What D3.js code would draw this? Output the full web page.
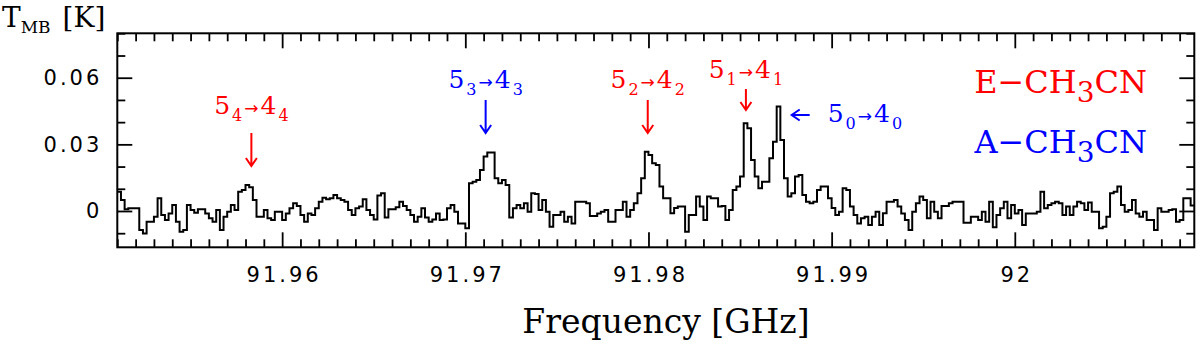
<!DOCTYPE html>
<meta charset="utf-8">
<script src="https://cdn.jsdelivr.net/npm/d3@7"></script>
<style>
body { margin: 0; background: #fff; }
.num { font: 21px "DejaVu Sans", sans-serif; letter-spacing: 3px; fill: #000; }
.serif { font-family: "DejaVu Serif", serif; }
.axis line { stroke: #000; stroke-width: 1.8px; }
.axis path.domain { display: none; }
</style>
<body>
<script>

// spectrum: 200 kHz channels starting at 91.951 GHz, T_MB in mK
var chanStart = 91.951,
    chanWidth = 0.0002;

var tmbMilliK = [
  8.7, 5.0, 0.8, 1.2, 1.2, 1.2, -8.6, -10.1, -4.8, -4.8,
  -2.6, 5.7, -1.8, -4.1, -1.1, 2.7, -4.8, -9.3, -8.6, 2.7,
  0.5, -0.8, 0.8, 0.8, -1.1, -3.3, -4.8, 0.5, -8.6, -2.6,
  -0.3, 2.7, 0.5, 8.7, 9.5, 11.7, 10.7, 5.0, -2.6, -2.6,
  0.5, -3.3, -4.1, -0.3, -0.3, -4.1, -1.1, 1.2, 3.5, 2.3,
  -1.8, -4.8, -1.1, -1.8, 1.2, 4.2, 6.0, 5.3, 5.7, 7.2,
  5.7, 5.0, 4.2, 0.5, -1.8, 1.2, 2.0, 5.3, 0.5, -1.8,
  -3.8, 7.0, 8.0, -2.9, 0.8, 0.8, 1.7, 4.2, 2.3, 0.5,
  -1.8, -4.8, -2.6, 1.2, -2.9, -4.8, -3.8, -1.1, -4.1, -3.8,
  1.2, 2.7, -0.3, -5.6, -5.6, -7.8, 12.5, 13.2, 14.0, 18.5,
  24.5, 26.3, 26.3, 14.7, 12.5, 14.0, 11.7, -2.9, 1.2, 2.7,
  1.2, 3.5, -0.3, 8.0, 7.7, 0.5, 5.0, -0.3, -7.1, -1.8,
  -1.8, -0.3, -4.8, -2.6, -5.6, 4.2, 4.2, 4.2, 3.5, -2.3,
  -2.3, -1.1, -0.3, 0.5, -4.8, -4.8, 0.5, 0.5, 4.2, -2.6,
  0.5, 3.5, 8.0, 14.7, 26.7, 25.2, 21.5, 20.7, 11.0, 5.7,
  5.7, -1.0, 1.3, 2.0, 2.0, -9.3, -1.8, -1.8, 6.5, 2.0,
  -4.1, 6.5, 5.7, 5.7, 2.0, 2.3, -4.1, 0.5, 9.5, 11.0,
  15.5, 39.5, 37.2, 23.0, 15.5, 10.2, 13.2, 13.2, 23.7, 31.2,
  47.0, 32.0, 14.7, 6.5, 8.0, 15.5, 16.2, 7.2, 4.2, 3.5,
  4.2, 9.5, 11.0, 11.0, 5.7, 1.3, -1.8, -0.3, 10.2, 9.5,
  2.0, -1.8, -5.6, -3.3, -2.6, -6.3, -2.6, -0.3, -6.3, -1.0,
  4.2, 4.2, 5.0, 2.0, -1.1, -4.1, -8.6, -0.3, 3.5, 6.5,
  5.0, -3.3, 4.2, -0.3, -3.3, 2.3, 2.3, 3.5, 4.2, 4.2,
  4.2, -5.3, -5.3, -2.6, -2.6, -4.1, -0.3, -4.8, 4.2, -7.3,
  -1.8, 1.2, 4.2, -3.3, 2.7, -1.1, 0.5, -6.3, -1.1, -1.1,
  -1.1, -0.3, 8.7, 1.2, 2.7, 3.5, 4.2, 3.5, -1.8, 2.0,
  -1.8, 2.0, 4.2, 3.5, 0.5, 3.8, -0.3, -0.3, -7.8, -7.1,
  -2.6, 8.0, 8.7, 11.0, 2.7, -0.3, 0.5, 5.0, -1.1, -2.6,
  -0.3, -4.1, -4.1, -8.6, 1.2, -0.3, -0.3, 0.5, 0.8, -4.8,
  -4.1, 5.7, 5.7, 2.5
];

var freqTicks = [91.96, 91.97, 91.98, 91.99, 92.00];
var tmbTicks = [0, 0.03, 0.06];

// CH3CN 5_K -> 4_K lines
var transK = [4, 3, 2, 1, 0];
var transFreq = [91.95832, 91.97111, 91.97996, 91.98532, 91.98711];
var transSpecies = ["E", "A", "E", "E", "A"];

var legendSpecies = ["E", "A"];

var width = 1200,
    height = 345,
    margin = {top: 33.3, right: 5.7, bottom: 97.7, left: 117.3};

var colors = {E: "#ff0000", A: "#0000ff"};

var x = d3.scaleLinear()
    .domain([91.951, 92.0098])
    .range([margin.left, width - margin.right]);

var y = d3.scaleLinear()
    .domain([-0.01635, 0.080])
    .range([height - margin.bottom, margin.top]);

var svg = d3.select("body").append("svg")
    .attr("width", width)
    .attr("height", height)
    .style("display", "block");

svg.append("defs").append("clipPath").attr("id", "plotclip")
  .append("rect")
    .attr("x", margin.left).attr("y", margin.top)
    .attr("width", width - margin.left - margin.right)
    .attr("height", height - margin.top - margin.bottom);

// the spectrum as a histogram
var pts = tmbMilliK.map(function(v, i) { return [chanStart + i * chanWidth, v / 1000]; });
pts.push([chanStart + tmbMilliK.length * chanWidth, tmbMilliK[tmbMilliK.length - 1] / 1000]);

var line = d3.line()
    .x(function(d) { return x(d[0]); })
    .y(function(d) { return y(d[1]); })
    .curve(d3.curveStepAfter);

svg.append("path")
    .datum(pts)
    .attr("clip-path", "url(#plotclip)")
    .attr("fill", "none")
    .attr("stroke", "#000")
    .attr("stroke-width", 2)
    .attr("stroke-linejoin", "miter")
    .attr("d", line);

// ticks, all pointing inward
var minorX = d3.range(91.951, 92.0099, 0.001).map(function(v) { return +v.toFixed(3); })
    .filter(function(v) { return freqTicks.indexOf(v) < 0; });
var minorY = d3.range(-0.01, 0.0801, 0.01).map(function(v) { return +v.toFixed(2); })
    .filter(function(v) { return tmbTicks.indexOf(v) < 0; });

var yb = height - margin.bottom, yt = margin.top,
    xl = margin.left, xr = width - margin.right;

svg.append("g").attr("class", "axis").attr("transform", "translate(0," + yb + ")")
    .call(d3.axisBottom(x).tickValues(minorX).tickSize(-8).tickSizeOuter(0).tickFormat(""));
svg.append("g").attr("class", "axis").attr("transform", "translate(0," + yt + ")")
    .call(d3.axisTop(x).tickValues(minorX).tickSize(-8).tickSizeOuter(0).tickFormat(""));
svg.append("g").attr("class", "axis").attr("transform", "translate(0," + yt + ")")
    .call(d3.axisTop(x).tickValues(freqTicks).tickSize(-15).tickSizeOuter(0).tickFormat(""));

var xAxis = svg.append("g").attr("class", "axis").attr("transform", "translate(0," + yb + ")")
    .call(d3.axisBottom(x).tickValues(freqTicks).tickSize(-15).tickSizeOuter(0)
      .tickPadding(20).tickFormat(function(d) { return String(+d.toFixed(2)); }));
xAxis.selectAll("text").attr("class", "num").attr("dx", 1.5);

svg.append("g").attr("class", "axis").attr("transform", "translate(" + xl + ",0)")
    .call(d3.axisLeft(y).tickValues(minorY).tickSize(-8).tickSizeOuter(0).tickFormat(""));
svg.append("g").attr("class", "axis").attr("transform", "translate(" + xr + ",0)")
    .call(d3.axisRight(y).tickValues(minorY).tickSize(-8).tickSizeOuter(0).tickFormat(""));
svg.append("g").attr("class", "axis").attr("transform", "translate(" + xr + ",0)")
    .call(d3.axisRight(y).tickValues(tmbTicks).tickSize(-15).tickSizeOuter(0).tickFormat(""));

var yAxis = svg.append("g").attr("class", "axis").attr("transform", "translate(" + xl + ",0)")
    .call(d3.axisLeft(y).tickValues(tmbTicks).tickSize(-15).tickSizeOuter(0)
      .tickPadding(15).tickFormat(function(d) { return d === 0 ? "0" : d.toFixed(2); }));
yAxis.selectAll("text").attr("class", "num");

svg.selectAll(".axis").attr("font-size", null).attr("font-family", null);

// frame
svg.append("rect")
    .attr("x", xl).attr("y", yt)
    .attr("width", xr - xl).attr("height", yb - yt)
    .attr("fill", "none").attr("stroke", "#000").attr("stroke-width", 2);

// axis titles
svg.append("text").attr("class", "serif")
    .attr("x", 666).attr("y", 333)
    .attr("text-anchor", "middle").attr("font-size", 33)
    .text("Frequency [GHz]");

var yt1 = svg.append("text").attr("class", "serif").attr("x", 2).attr("y", 27);
yt1.append("tspan").attr("font-size", 28).text("T");
yt1.append("tspan").attr("font-size", 17).attr("dy", 6).text("MB");
yt1.append("tspan").attr("font-size", 28).attr("dy", -6).attr("dx", 12).text("[K]");

// line markers
var annot = {
  4: {labelY: 114, a0: 133, a1: 166},
  3: {labelY: 88.3, a0: 100, a1: 133},
  2: {labelY: 88.3, a0: 100, a1: 133},
  1: {labelY: 78.3, a0: 89, a1: 110},
  0: {labelY: 122, arrowY: 115}
};

function transLabel(t, k) {
  t.append("tspan").attr("font-size", 25).text("5");
  t.append("tspan").attr("font-size", 16).attr("dy", 7).text(k);
  t.append("tspan").attr("font-family", "DejaVu Sans").attr("font-size", 17).attr("dy", -7).text("\u2192");
  t.append("tspan").attr("font-size", 25).text("4");
  t.append("tspan").attr("font-size", 16).attr("dy", 7).text(k);
}

transK.forEach(function(k, i) {
  var col = colors[transSpecies[i]],
      px = x(transFreq[i]),
      a = annot[k];
  var g = svg.append("g");
  var t = g.append("text").attr("class", "serif")
      .attr("fill", col).style("letter-spacing", "2px")
      .attr("y", a.labelY);
  if (a.arrowY === undefined) {
    t.attr("x", px + 1).attr("text-anchor", "middle");
    g.append("path")
        .attr("d", "M" + px + "," + a.a0 + "V" + a.a1 +
              "M" + (px - 5.5) + "," + (a.a1 - 8) + "L" + px + "," + a.a1 + "L" + (px + 5.5) + "," + (a.a1 - 8))
        .attr("fill", "none").attr("stroke", col).attr("stroke-width", 2);
  } else {
    t.attr("x", px + 49);
    var ax0 = px + 13, ax1 = px + 31;
    g.append("path")
        .attr("d", "M" + ax1 + "," + a.arrowY + "H" + ax0 +
              "M" + (ax0 + 8) + "," + (a.arrowY - 5.5) + "L" + ax0 + "," + a.arrowY + "L" + (ax0 + 8) + "," + (a.arrowY + 5.5))
        .attr("fill", "none").attr("stroke", col).attr("stroke-width", 2);
  }
  transLabel(t, k);
});

// species legend
legendSpecies.forEach(function(s, i) {
  var t = svg.append("text").attr("class", "serif")
      .attr("x", 1147).attr("y", 93.3 + i * 60)
      .attr("text-anchor", "end").attr("fill", colors[s]);
  t.append("tspan").attr("font-size", 32).text(s + "\u2212CH");
  t.append("tspan").attr("font-size", 28).attr("dy", 9).text("3");
  t.append("tspan").attr("font-size", 32).attr("dy", -9).text("CN");
});

</script>
</body>
